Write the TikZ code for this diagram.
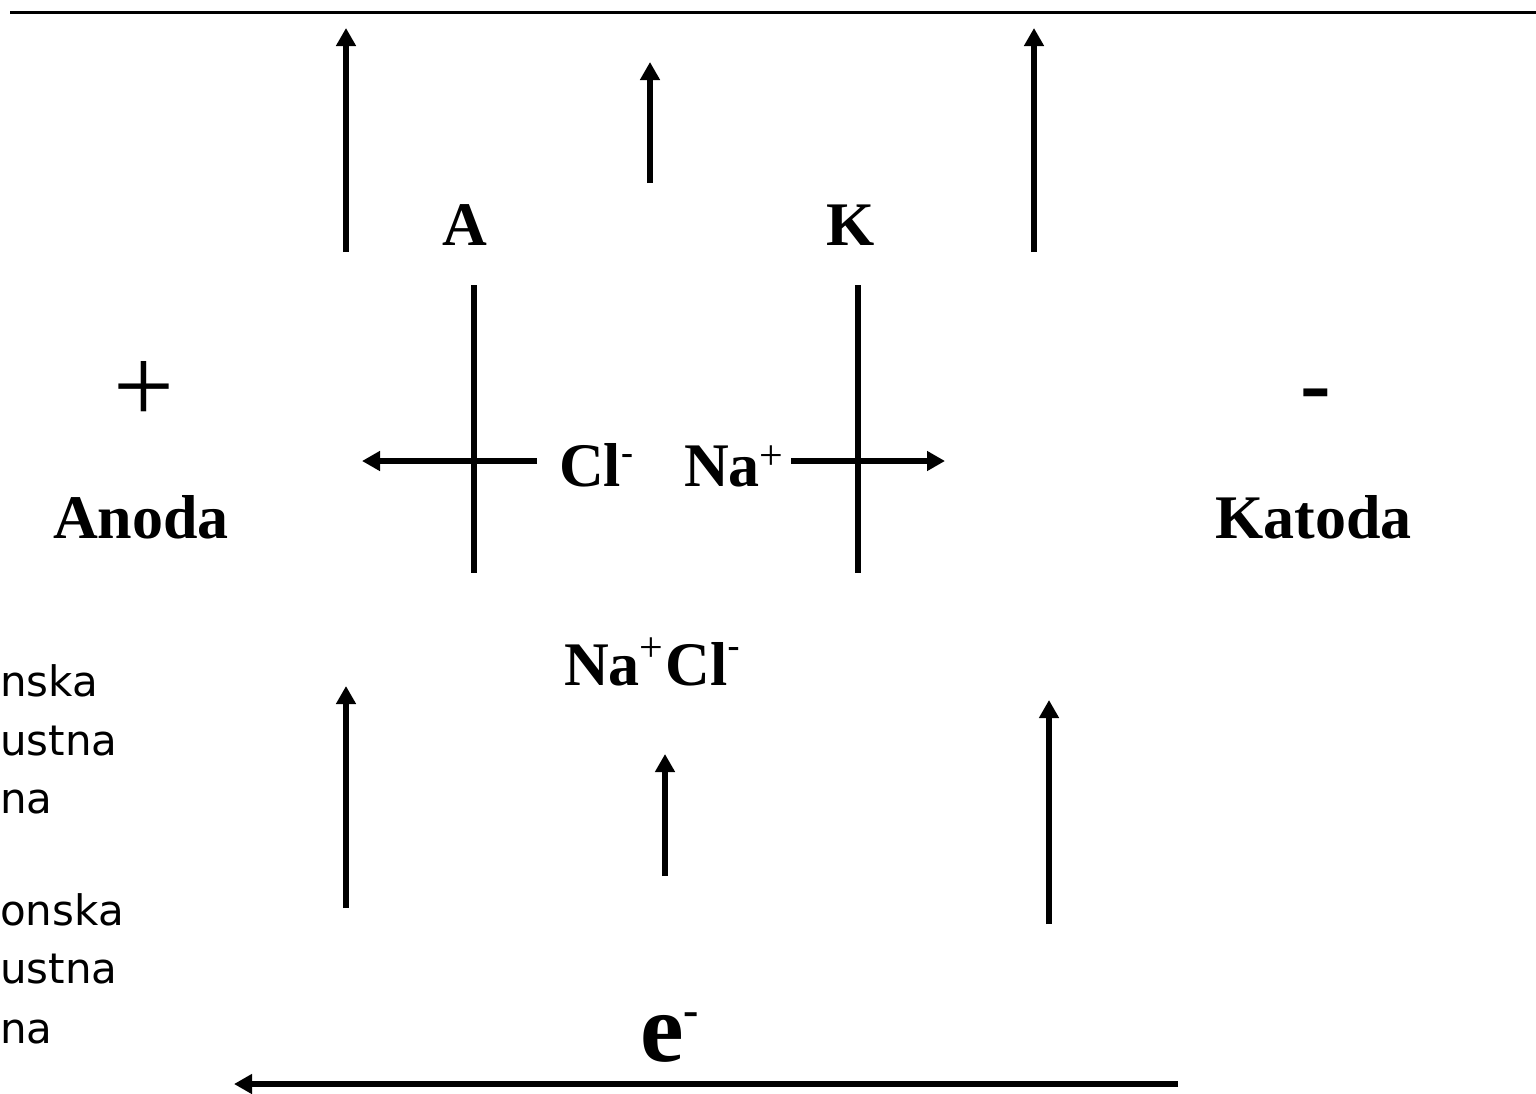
\documentclass[tikz,border=0pt]{standalone}
\usepackage{fontspec}
\setmainfont{Liberation Serif}
\newfontfamily\vsans{DejaVu Sans}
\usetikzlibrary{arrows.meta}
\newcommand\supm[2]{\raisebox{#1}{\fontsize{#2}{#2}\selectfont\bfseries -}}
\newcommand\supp[2]{\raisebox{#1}{\fontsize{#2}{#2}\selectfont\mdseries +}}
\begin{document}
\begin{tikzpicture}[x=1pt,y=-1pt,
  lbl/.style={font=\fontsize{62}{72}\selectfont\bfseries, inner sep=0pt, anchor=base west},
  side/.style={font=\vsans\fontsize{42}{50}\selectfont, inner sep=0pt, anchor=base west},
  arr/.style={-{Triangle[length=18pt,width=19pt]}, line width=5.5pt},
  bar/.style={line width=6pt}]
\useasboundingbox (0,0) rectangle (1536,1093);
% top rule
\coordinate (t1) at (10,12);
\coordinate (t2) at (1536,12);
\draw[line width=3pt] (t1) -- (t2);
% upper arrows
\coordinate (u1s) at (346,252); \coordinate (u1e) at (346,28);
\coordinate (u2s) at (650,183); \coordinate (u2e) at (650,62);
\coordinate (u3s) at (1034,252); \coordinate (u3e) at (1034,28);
\draw[arr] (u1s) -- (u1e);
\draw[arr] (u2s) -- (u2e);
\draw[arr] (u3s) -- (u3e);
% electrodes
\coordinate (a1) at (474,285); \coordinate (a2) at (474,573);
\coordinate (k1) at (858,285); \coordinate (k2) at (858,573);
\draw[bar] (a1) -- (a2);
\draw[bar] (k1) -- (k2);
% horizontal ion arrows
\coordinate (hl1) at (537,461); \coordinate (hl2) at (362,461);
\coordinate (hr1) at (791,461); \coordinate (hr2) at (945,461);
\draw[arr] (hl1) -- (hl2);
\draw[arr] (hr1) -- (hr2);
% lower arrows
\coordinate (l1s) at (346,908); \coordinate (l1e) at (346,686);
\coordinate (l2s) at (665,876); \coordinate (l2e) at (665,754);
\coordinate (l3s) at (1049,924); \coordinate (l3e) at (1049,700);
\draw[arr] (l1s) -- (l1e);
\draw[arr] (l2s) -- (l2e);
\draw[arr] (l3s) -- (l3e);
% electron arrow
\coordinate (b1) at (1178,1084); \coordinate (b2) at (234,1084);
\draw[arr] (b1) -- (b2);
% labels
\node[lbl, anchor=base] (A) at (465,245) {A};
\node[lbl, anchor=base] (K) at (851,245) {K};
\node[lbl] (anoda) at (53,538) {Anoda};
\node[lbl] (katoda) at (1215,538) {Katoda};
\node[inner sep=0pt, anchor=base, font=\fontsize{108}{110}\selectfont] (plus) at (144,422) {+};
\node[inner sep=0pt, anchor=base, font=\fontsize{92}{100}\selectfont\bfseries] (minus) at (1316,414) {-};
\node[lbl] (cl) at (559,486) {Cl\supm{22pt}{36}};
\node[lbl] (na) at (684,486) {Na\supp{17pt}{42}};
\node[lbl] (nacl) at (564,685) {Na\supp{24pt}{42}\hspace{2pt}Cl\supm{28pt}{36}};
\node[inner sep=0pt, anchor=base west, font=\fontsize{98}{100}\selectfont\bfseries] (e) at (640,1061) {e\supm{36pt}{46}};
% side texts
\node[side] (s1) at (0,696) {nska};
\node[side] (s2) at (0,755) {ustna};
\node[side] (s3) at (0,813) {na};
\node[side] (s4) at (0,925) {onska};
\node[side] (s5) at (0,983) {ustna};
\node[side] (s6) at (0,1043) {na};
\end{tikzpicture}
\end{document}
